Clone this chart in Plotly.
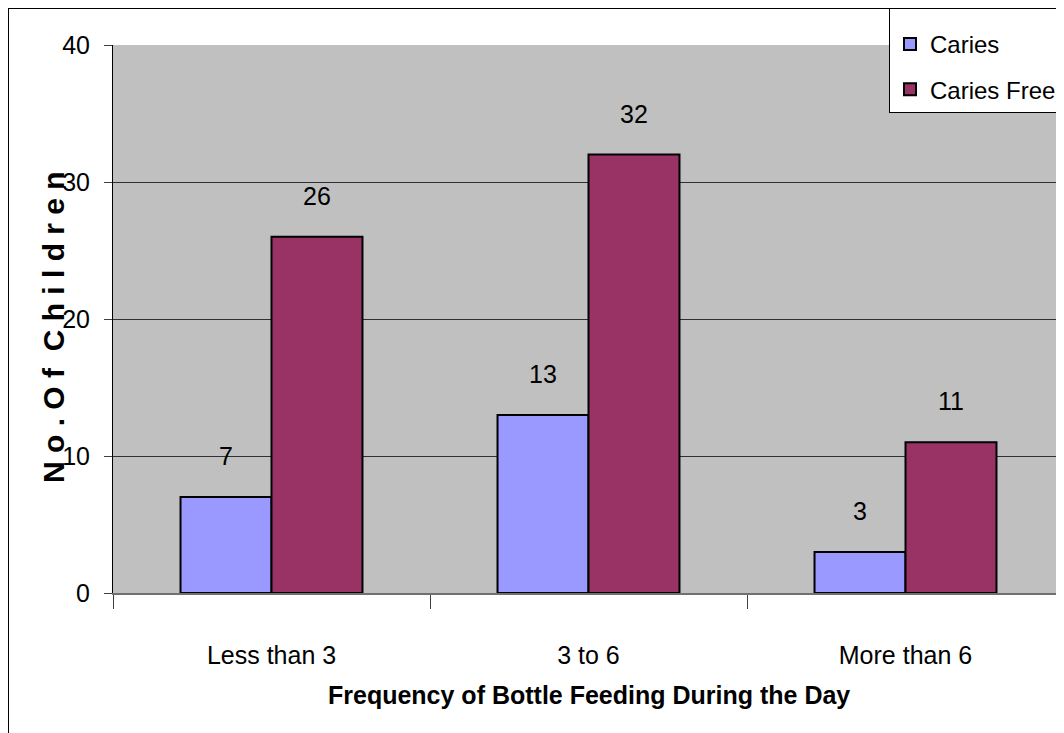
import plotly.graph_objects as go

categories = ["Less than 3", "3 to 6", "More than 6"]
caries = [7, 13, 3]
caries_free = [26, 32, 11]
series_names = ["Caries", "Caries Free"]
colors = ["#9999FF", "#993366"]
y_ticks = [0, 10, 20, 30, 40]

FONT = "Liberation Sans, Arial, sans-serif"
FS = 25

W, H = 1056, 725
L, T, B = 105, 37, 140
PW, PH = W - L, H - T - B

fig = go.Figure()
for k, (name, vals, col) in enumerate(zip(series_names, [caries, caries_free], colors)):
    fig.add_trace(go.Bar(
        x=categories, y=vals, name=name, legendgroup=f"g{k}",
        marker=dict(color=col, line=dict(color="black", width=2)),
    ))

# data labels
for i, vals in enumerate([caries, caries_free]):
    shift = -45.5 if i == 0 else 45.5
    for c, v in zip(categories, vals):
        fig.add_annotation(x=c, y=v, text=str(v), showarrow=False,
                           xshift=shift, yshift=25, yanchor="bottom",
                           font=dict(family=FONT, size=FS, color="black"))

fig.update_layout(
    width=W, height=H,
    margin=dict(l=L, r=0, t=T, b=B, pad=0, autoexpand=False),
    paper_bgcolor="white", plot_bgcolor="#C0C0C0",
    barmode="group", bargap=0.426, bargroupgap=0,
    font=dict(family=FONT, size=FS, color="black"),
    showlegend=True,
    legend=dict(x=(881 - L) / PW, y=1 + T / PH, xanchor="left", yanchor="top",
                bgcolor="white", bordercolor="black", borderwidth=1,
                font=dict(family=FONT, size=24, color="black"),
                title=dict(text=" ", font=dict(size=10)),
                tracegroupgap=11),
    xaxis=dict(showgrid=False, tickson="boundaries", ticks="outside", ticklen=14,
               tickcolor="#404040", tickwidth=1, showline=True, linecolor="#707070",
               linewidth=2, ticklabelstandoff=39,
               tickfont=dict(family=FONT, size=FS, color="black")),
    yaxis=dict(range=[0, 40], tickvals=y_ticks, showgrid=True, gridcolor="#303030",
               gridwidth=1, ticks="outside", ticklen=8, tickcolor="#404040",
               showline=True, linecolor="black", linewidth=1, zeroline=False,
               ticklabelstandoff=9,
               tickfont=dict(family=FONT, size=FS, color="black")),
)

fig.add_annotation(xref="paper", yref="paper", x=0.5, y=-(687 - (T + PH)) / PH,
                   text="<b>Frequency of Bottle Feeding During the Day</b>",
                   showarrow=False, yanchor="middle",
                   font=dict(family=FONT, size=FS, color="black"))
fig.add_annotation(xref="paper", yref="paper", x=-(L - 45) / PW, y=((T + PH) - 319) / PH,
                   text="<b>N o . O f  C h i l d r e n</b>", textangle=-90,
                   showarrow=False, xanchor="center", yanchor="middle",
                   font=dict(family=FONT, size=30, color="black"))

# outer border (top and left edges of the chart)
fig.add_shape(type="line", xref="paper", yref="paper", x0=-L / PW, x1=-L / PW,
              y0=1 + T / PH, y1=-B / PH, line=dict(color="black", width=2))
fig.add_shape(type="line", xref="paper", yref="paper", x0=-L / PW, x1=1.02,
              y0=1 + T / PH, y1=1 + T / PH, line=dict(color="black", width=2))

fig.write_html("out.html")
